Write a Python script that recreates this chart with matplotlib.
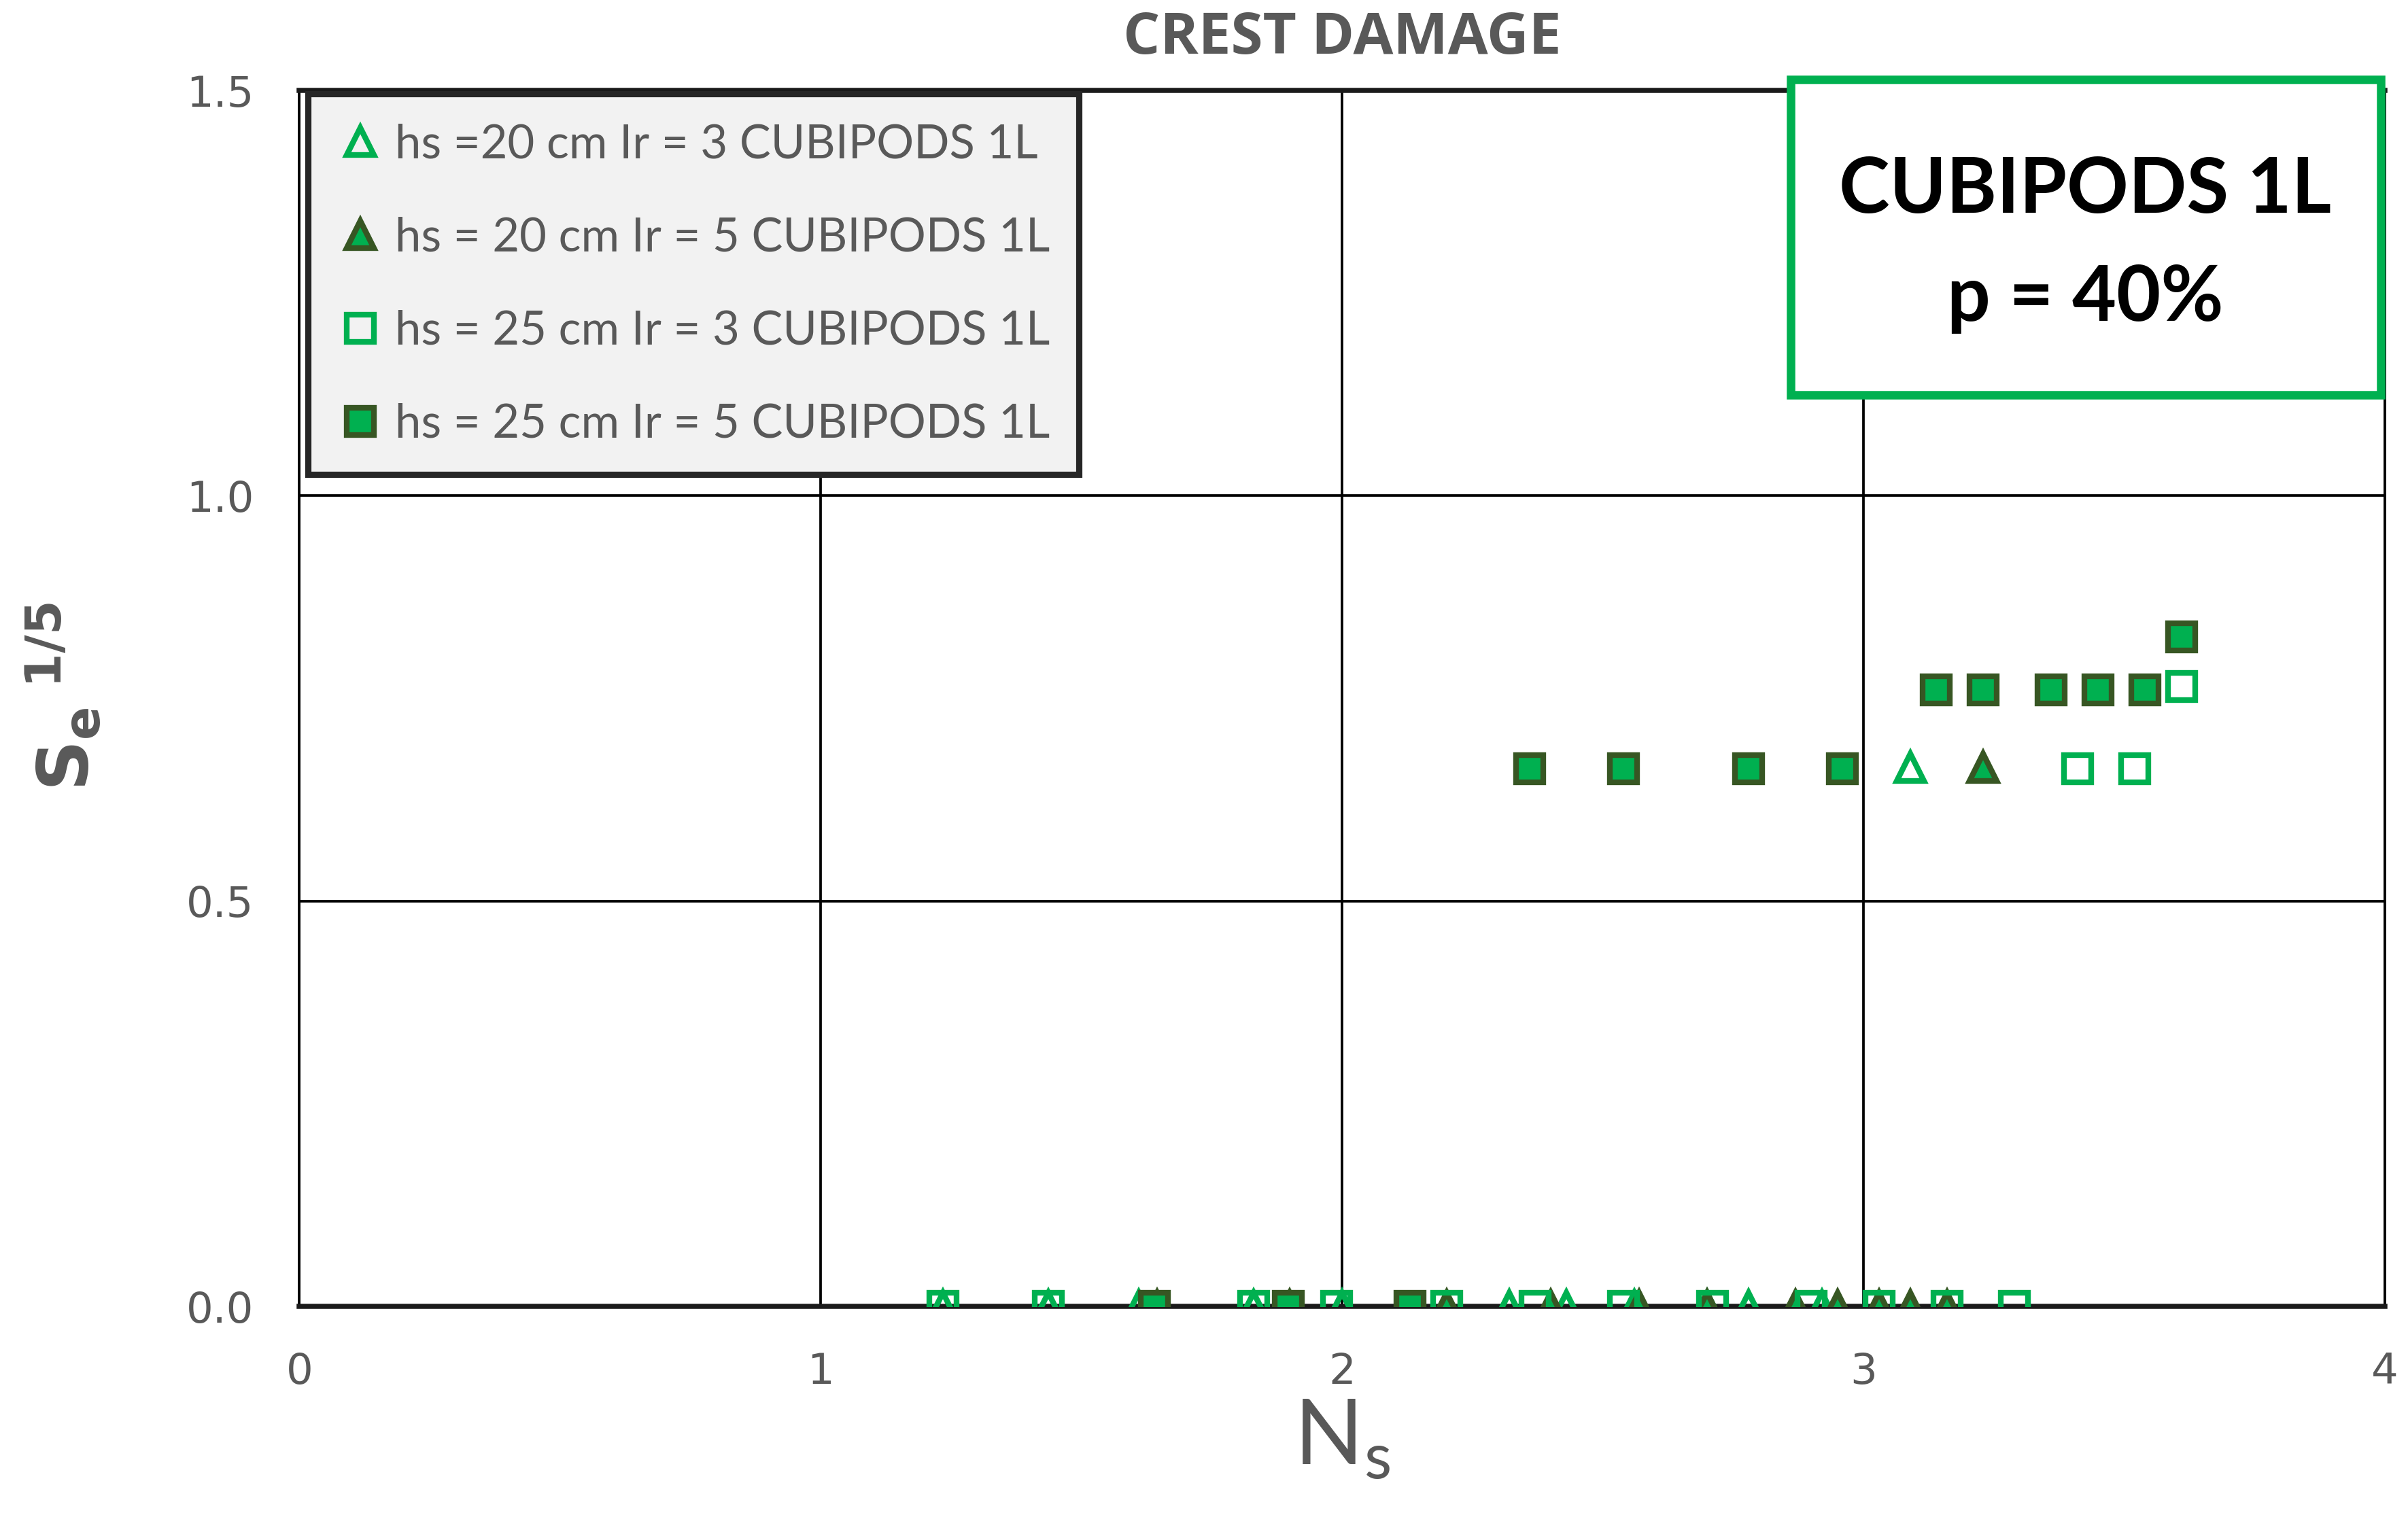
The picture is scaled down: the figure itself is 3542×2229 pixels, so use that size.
import matplotlib
matplotlib.use("Agg")
import matplotlib.pyplot as plt
from matplotlib.patches import Rectangle

# Datos (Ns, Se^(1/5))
ns_h20_ir3 = [1.235, 1.437, 1.61, 1.83, 2.00, 2.32, 2.43, 2.56, 2.70, 2.78, 2.92, 3.09]
se_h20_ir3 = [0, 0, 0, 0, 0, 0, 0, 0, 0, 0, 0, 0.665]

ns_h20_ir5 = [1.645, 1.90, 2.20, 2.40, 2.57, 2.70, 2.87, 2.95, 3.03, 3.09, 3.16, 3.23]
se_h20_ir5 = [0, 0, 0, 0, 0, 0, 0, 0, 0, 0, 0, 0.665]

ns_h25_ir3 = [1.235, 1.437, 1.83, 1.99, 2.20, 2.37, 2.54, 2.71, 2.90, 3.03, 3.16, 3.29,
              3.41, 3.52, 3.61]
se_h25_ir3 = [0, 0, 0, 0, 0, 0, 0, 0, 0, 0, 0, 0, 0.663, 0.663, 0.765]

ns_h25_ir5 = [1.64, 1.897, 2.13, 2.36, 2.54, 2.78, 2.96, 3.14, 3.23, 3.36, 3.45, 3.54, 3.61]
se_h25_ir5 = [0, 0, 0, 0.663, 0.663, 0.663, 0.663, 0.761, 0.761, 0.761, 0.761, 0.761, 0.826]

labels = ["hs =20 cm Ir = 3 CUBIPODS 1L",
          "hs = 20 cm Ir = 5 CUBIPODS 1L",
          "hs = 25 cm Ir = 3 CUBIPODS 1L",
          "hs = 25 cm Ir = 5 CUBIPODS 1L"]

GREEN = "#00B050"
DARK = "#375623"
GREY = "#595959"
NARROW = ["Lato", "DejaVu Sans"]

fig = plt.figure(figsize=(3542 / 300, 2229 / 300), dpi=300)
ax = fig.add_axes([0.1243, 0.1376, 0.8661, 0.8027])

ms = 9.5
mew = 2.0
ax.plot(ns_h20_ir3, se_h20_ir3, ls="none", marker="^", ms=ms, mew=mew,
        mfc="none", mec=GREEN, label=labels[0], zorder=3)
ax.plot(ns_h20_ir5, se_h20_ir5, ls="none", marker="^", ms=ms, mew=mew,
        mfc=GREEN, mec=DARK, label=labels[1], zorder=3)
ax.plot(ns_h25_ir3, se_h25_ir3, ls="none", marker="s", ms=ms, mew=mew,
        mfc="none", mec=GREEN, label=labels[2], zorder=3)
ax.plot(ns_h25_ir5, se_h25_ir5, ls="none", marker="s", ms=ms, mew=mew,
        mfc=GREEN, mec=DARK, label=labels[3], zorder=3)

ax.set_xlim(0, 4)
ax.set_ylim(0, 1.5)
ax.set_xticks([0, 1, 2, 3, 4])
ax.set_yticks([0.0, 0.5, 1.0, 1.5])
ax.set_yticklabels(["0.0", "0.5", "1.0", "1.5"])
ax.grid(True, color="black", lw=0.9)
ax.set_axisbelow(True)
ax.tick_params(length=0, labelsize=15, labelcolor=GREY)
ax.tick_params(axis="x", pad=16)
ax.tick_params(axis="y", pad=16)
for s in ["left", "right"]:
    ax.spines[s].set_linewidth(0.9)
for s in ["top", "bottom"]:
    ax.spines[s].set_linewidth(1.8)
    ax.spines[s].set_color("#1a1a1a")

ax.set_xlabel(r"N$_\mathregular{s}$", fontsize=32, color=GREY, labelpad=2,
              family="Lato")
fig.text(0.027, 0.54, r"$\mathbf{S_e}^{\ \mathbf{1/5}}$", fontsize=25, color=GREY,
         rotation=90, ha="center", va="center")
ax.set_title("CREST DAMAGE", fontsize=20.5, color=GREY, fontweight="bold",
             family="Open Sans", pad=13)

leg = ax.legend(loc="upper left", bbox_to_anchor=(0.004, 0.997), borderaxespad=0,
                fancybox=False, shadow=False, framealpha=1, facecolor="#F2F2F2",
                edgecolor="#262626", prop={"family": NARROW, "size": 16.5},
                labelspacing=1.08, handletextpad=0.25, handlelength=1.0,
                borderpad=0.62, markerscale=1.0)
leg.get_frame().set_linewidth(2.2)
for t in leg.get_texts():
    t.set_color(GREY)

# caja de anotacion
fig.patches.append(Rectangle((0.7437, 0.7395), 0.2449, 0.2078, transform=fig.transFigure,
                             fill=True, facecolor="white", edgecolor=GREEN, lw=3.0,
                             zorder=5))
fig.text(0.866, 0.874, "CUBIPODS 1L", ha="center", va="center", fontsize=27,
         fontweight="bold", family=NARROW, color="black", zorder=6)
fig.text(0.866, 0.803, "p = 40%", ha="center", va="center", fontsize=27,
         fontweight="bold", family=NARROW, color="black", zorder=6)

fig.savefig("out.png", dpi=300)
